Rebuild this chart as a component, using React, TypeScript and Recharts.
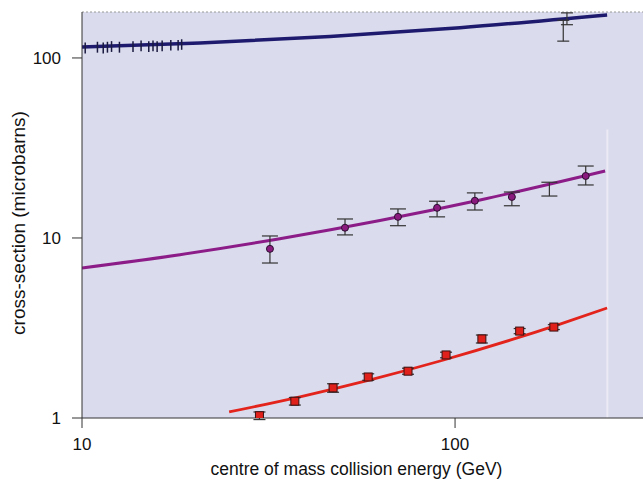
import React from 'react';
import {
  ComposedChart,
  Line,
  Scatter,
  ErrorBar,
  XAxis,
  YAxis,
  CartesianGrid,
  ReferenceLine,
} from 'recharts';

// fitted curves (energy in GeV, cross-section in microbarns)
const blueFitX = [10, 20.7, 46.2, 103.1, 255.6];
const blueFitY = [115.1, 121.0, 131.5, 147.3, 173.3];

const purpleFitX = [10, 18.3, 33.9, 62.9, 116.7, 252.5];
const purpleFitY = [6.81, 8.08, 9.91, 12.51, 16.27, 23.57];

const redFitX = [24.8, 38.4, 59.2, 91.2, 140.4, 191.2, 255.6];
const redFitY = [1.08, 1.311, 1.628, 2.073, 2.705, 3.325, 4.083];

// measurements
const blueLowX = [10.2, 11.0, 11.4, 11.7, 12.0, 12.6, 13.7, 14.4, 15.1, 15.5, 15.9, 16.4, 17.3, 18.1, 18.5];
const blueLowY = [114, 115, 114, 115, 116, 115, 116, 117, 116, 117, 116, 117, 118, 118, 119];
const blueHighX = [195, 199.5];
const blueHighY = [143, 160];
const blueHighErr = [[19, 19], [7, 18]];

const purpleX = [31.9, 50.7, 70.3, 89.5, 113, 142, 224];
const purpleY = [8.7, 11.4, 13.1, 14.7, 16.1, 16.9, 22.1];
const purpleErr = [[1.44, 1.56], [1.0, 1.35], [1.4, 1.4], [1.6, 1.3], [1.8, 1.7], [1.8, 1.1], [2.4, 3.0]];
const purpleBareX = [179];
const purpleBareY = [19.0];
const purpleBareErr = [[1.9, 1.4]];

const redX = [29.9, 37.2, 47.1, 58.5, 74.8, 94.6, 118, 149, 184];
const redY = [1.03, 1.24, 1.47, 1.69, 1.82, 2.24, 2.75, 3.04, 3.2];
const redErr = [0.05, 0.06, 0.08, 0.07, 0.07, 0.08, 0.14, 0.1, 0.1];

const xTicks = [10, 100];
const yTicks = [1, 10, 100];

const zip = (xs: number[], ys: number[]) => xs.map((x, i) => ({ x, y: ys[i] }));
const withErr = (xs: number[], ys: number[], es: any[]) =>
  xs.map((x, i) => ({ x, y: ys[i], err: es[i] }));

const blueFit = zip(blueFitX, blueFitY);
const purpleFit = zip(purpleFitX, purpleFitY);
const redFit = zip(redFitX, redFitY);
const blueLow = withErr(blueLowX, blueLowY, blueLowY.map(() => 8));
const blueHigh = withErr(blueHighX, blueHighY, blueHighErr);
const purplePts = withErr(purpleX, purpleY, purpleErr);
const purpleBare = withErr(purpleBareX, purpleBareY, purpleBareErr);
const redPts = withErr(redX, redY, redErr);

const FONT = "'Liberation Sans', Arial, sans-serif";

const Circle = (p: any) => (
  <circle cx={p.cx} cy={p.cy} r={3.5} fill="#8a1a7e" stroke="#2a1030" strokeWidth={1} />
);
const Square = (p: any) => (
  <rect x={p.cx - 4} y={p.cy - 4} width={8} height={8} fill="#e0201a" stroke="#3a1010" strokeWidth={1} />
);
const Nothing = () => <g />;

export default function App() {
  return (
    <div style={{ position: 'absolute', left: 0, top: 0, background: '#fff' }}>
      <ComposedChart
        width={643}
        height={480}
        margin={{ top: 12, right: 0, left: 0, bottom: 0 }}
        style={{ fontFamily: FONT }}
      >
        <CartesianGrid fill="#dadbed" horizontal={false} vertical={false} />
        <XAxis
          type="number"
          dataKey="x"
          scale="log"
          domain={[10, 319]}
          ticks={xTicks}
          allowDataOverflow
          height={62}
          tickSize={10}
          tickMargin={10}
          stroke="#333"
          tick={{ fontSize: 17, fill: '#111' }}
          label={{
            value: 'centre of mass collision energy (GeV)',
            position: 'insideBottom',
            offset: 5,
            dx: -6,
            style: { fontSize: 17.5, fill: '#111' },
          }}
        />
        <YAxis
          type="number"
          dataKey="y"
          scale="log"
          domain={[1, 180]}
          ticks={yTicks}
          allowDataOverflow
          width={82}
          tickSize={10}
          tickMargin={11}
          stroke="#333"
          tick={{ fontSize: 17, fill: '#111' }}
          label={{
            value: 'cross-section (microbarns)',
            angle: -90,
            position: 'insideLeft',
            offset: 18,
            dy: 8,
            style: { fontSize: 19, fill: '#111', textAnchor: 'middle' },
          }}
        />
        <ReferenceLine y={180} stroke="#999" strokeDasharray="2 2" />
        <ReferenceLine
          segment={[{ x: 256, y: 1 }, { x: 256, y: 40 }]}
          stroke="#eceaf4"
          strokeWidth={2}
        />

        <Line data={blueFit} dataKey="y" type="monotone" stroke="#1e1b6e" strokeWidth={3.5} dot={false} activeDot={false} isAnimationActive={false} />
        <Line data={purpleFit} dataKey="y" type="monotone" stroke="#8c1c88" strokeWidth={3} dot={false} activeDot={false} isAnimationActive={false} />
        <Line data={redFit} dataKey="y" type="monotone" stroke="#e3241c" strokeWidth={2.8} dot={false} activeDot={false} isAnimationActive={false} />

        <Scatter data={blueLow} dataKey="y" shape={Nothing} isAnimationActive={false}>
          <ErrorBar dataKey="err" direction="y" width={0} stroke="#1a1a40" strokeWidth={1.5} />
        </Scatter>
        <Scatter data={blueHigh} dataKey="y" shape={Nothing} isAnimationActive={false}>
          <ErrorBar dataKey="err" direction="y" width={6} stroke="#333" strokeWidth={1.2} />
        </Scatter>
        <Scatter data={purplePts} dataKey="y" shape={Circle} isAnimationActive={false}>
          <ErrorBar dataKey="err" direction="y" width={8} stroke="#333" strokeWidth={1.2} />
        </Scatter>
        <Scatter data={purpleBare} dataKey="y" shape={Nothing} isAnimationActive={false}>
          <ErrorBar dataKey="err" direction="y" width={8} stroke="#333" strokeWidth={1.2} />
        </Scatter>
        <Scatter data={redPts} dataKey="y" shape={Square} isAnimationActive={false}>
          <ErrorBar dataKey="err" direction="y" width={6} stroke="#333" strokeWidth={1.2} />
        </Scatter>
      </ComposedChart>
    </div>
  );
}
